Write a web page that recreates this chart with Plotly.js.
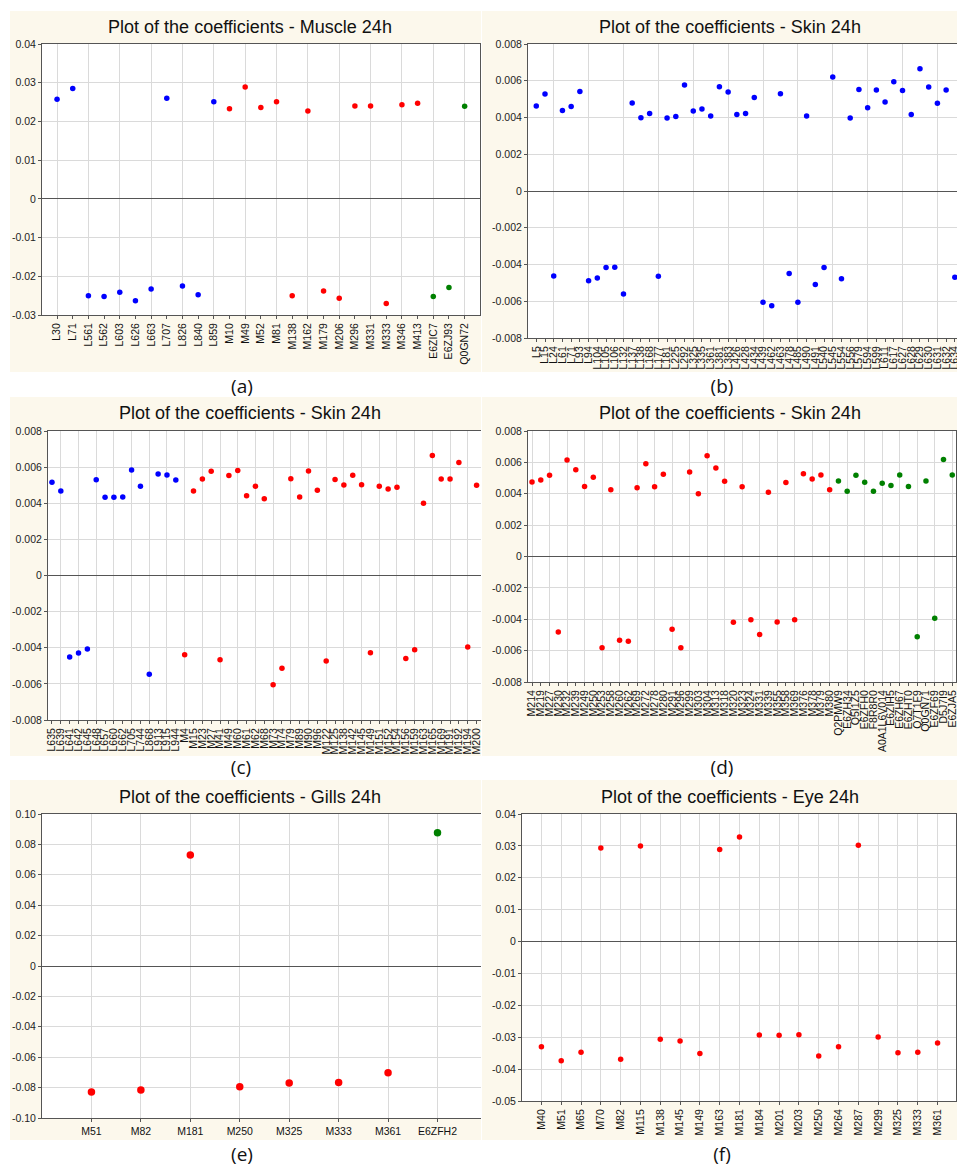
<!DOCTYPE html>
<html><head><meta charset="utf-8">
<script src="https://cdn.plot.ly/plotly-3.0.1.min.js"></script>
<style>
html,body{margin:0;padding:0;background:#fff;width:957px;height:1167px;overflow:hidden;position:relative;}
.panel{position:absolute;}
.lab{position:absolute;font-family:'Open Sans',sans-serif;font-size:19px;color:#111;transform:translate(-50%,-50%);white-space:nowrap;line-height:1;}
</style></head><body>
<div id="pa" class="panel"></div>
<div id="pb" class="panel"></div>
<div id="pc" class="panel"></div>
<div id="pd" class="panel"></div>
<div id="pe" class="panel"></div>
<div id="pf" class="panel"></div>
<div class="lab" style="left:242px;top:386px">(a)</div>
<div class="lab" style="left:722px;top:386px">(b)</div>
<div class="lab" style="left:241px;top:767px">(c)</div>
<div class="lab" style="left:722px;top:767px">(d)</div>
<div class="lab" style="left:242px;top:1154px">(e)</div>
<div class="lab" style="left:722px;top:1154px">(f)</div>
<script>
// ---------- DATA ----------
const aTitle = 'Plot of the coefficients - Muscle 24h';
const aLabels = ['L30','L71','L561','L562','L603','L626','L663','L707','L826','L840','L859','M10','M49','M52','M81','M138','M162','M179','M206','M296','M331','M333','M346','M413','E6ZIC7','E6ZJ93','Q0GN72'];
const aValues = [0.0257,0.0285,-0.0250,-0.0252,-0.0241,-0.0263,-0.0233,0.0260,-0.0225,-0.0248,0.0251,0.0233,0.0289,0.0236,0.0251,-0.0250,0.0227,-0.0238,-0.0257,0.0240,0.0240,-0.0270,0.0243,0.0247,-0.0252,-0.0229,0.0239];

const bTitle = 'Plot of the coefficients - Skin 24h';
const bLabels = ['L5','L15','L24','L61','L71','L93','L94','L104','L105','L106','L132','L137','L138','L168','L177','L181','L225','L292','L325','L335','L361','L381','L383','L426','L428','L434','L439','L462','L463','L478','L485','L490','L491','L540','L545','L554','L556','L579','L594','L599','L611','L617','L627','L628','L629','L630','L631','L632','L634'];
const bValues = [0.00462,0.00528,-0.00462,0.00438,0.00460,0.00542,-0.00489,-0.00473,-0.00417,-0.00415,-0.00560,0.00479,0.00399,0.00422,-0.00464,0.00397,0.00406,0.00577,0.00435,0.00446,0.00408,0.00567,0.00539,0.00417,0.00422,0.00509,-0.00605,-0.00625,0.00529,-0.00449,-0.00605,0.00408,-0.00509,-0.00417,0.00620,-0.00477,0.00397,0.00553,0.00453,0.00549,0.00484,0.00595,0.00547,0.00417,0.00665,0.00566,0.00477,0.00549,-0.00469];

const cTitle = 'Plot of the coefficients - Skin 24h';
const cLabels = ['L635','L639','L641','L642','L645','L648','L657','L660','L662','L705','L744','L868','L913','L915','L944','M4','M15','M23','M27','M41','M49','M60','M61','M62','M68','M73','M74','M79','M89','M90','M96','M122','M125','M138','M142','M145','M149','M151','M152','M154','M156','M159','M163','M165','M169','M191','M192','M194','M200'];
const cValues = [0.00516,0.00468,-0.00451,-0.00429,-0.00407,0.00530,0.00433,0.00433,0.00435,0.00584,0.00494,-0.00547,0.00562,0.00556,0.00529,-0.00439,0.00468,0.00534,0.00577,-0.00466,0.00553,0.00582,0.00442,0.00494,0.00425,-0.00605,-0.00514,0.00536,0.00435,0.00579,0.00472,-0.00474,0.00532,0.00501,0.00555,0.00503,-0.00427,0.00494,0.00479,0.00488,-0.00459,-0.00411,0.00400,0.00665,0.00534,0.00534,0.00625,-0.00396,0.00499];

const dTitle = 'Plot of the coefficients - Skin 24h';
const dLabels = ['M214','M219','M227','M230','M232','M239','M249','M250','M253','M258','M260','M262','M269','M272','M278','M280','M291','M296','M299','M303','M304','M313','M318','M320','M323','M324','M331','M339','M355','M358','M369','M376','M378','M379','M380','Q2PMW9','E6ZH34','Q5I1Z5','E6ZFH0','F8R8R0','A0A1L6V014','E6ZIH5','E6ZH67','E6ZHT0','Q7T1F9','Q0GN71','E6ZF69','D5J7I9','E6ZJA5'];
const dValues = [0.00475,0.00488,0.00518,-0.00481,0.00615,0.00553,0.00447,0.00505,-0.00581,0.00426,-0.00534,-0.00541,0.00439,0.00592,0.00445,0.00524,-0.00464,-0.00581,0.00539,0.00400,0.00643,0.00564,0.00479,-0.00419,0.00445,-0.00403,-0.00498,0.00409,-0.00417,0.00471,-0.00403,0.00528,0.00494,0.00520,0.00426,0.00481,0.00416,0.00518,0.00473,0.00416,0.00467,0.00452,0.00520,0.00447,-0.00511,0.00481,-0.00394,0.00619,0.00520];

const eTitle = 'Plot of the coefficients - Gills 24h';
const eLabels = ['M51','M82','M181','M250','M325','M333','M361','E6ZFH2'];
const eValues = [-0.0829,-0.0816,0.0731,-0.0794,-0.0770,-0.0766,-0.0702,0.0877];

const fTitle = 'Plot of the coefficients - Eye 24h';
const fLabels = ['M40','M51','M65','M70','M82','M115','M138','M145','M149','M163','M181','M184','M201','M203','M250','M264','M287','M299','M325','M333','M361'];
const fValues = [-0.0330,-0.0374,-0.0347,0.0293,-0.0369,0.0300,-0.0306,-0.0312,-0.0351,0.0289,0.0328,-0.0293,-0.0294,-0.0292,-0.0359,-0.0330,0.0302,-0.0299,-0.0349,-0.0347,-0.0318];

// ---------- STYLE ----------
const FONT = '"Liberation Sans", Arial, sans-serif';
const CREAM = '#fcf8ec';
const GRID = '#dadada';
const AX = '#555555';
const GROUP_COLORS = {L:'#0000ff', M:'#ff0000', other:'#008000'};
function groupColor(lbl){
  const c = lbl.charAt(0);
  if (c === 'L') return GROUP_COLORS.L;
  if (c === 'M') return GROUP_COLORS.M;
  return GROUP_COLORS.other;
}

function drawPanel(id, cfg){
  const el = document.getElementById(id);
  const [bx,by,bw,bh] = cfg.box;
  const [px0,py0,px1,py1] = cfg.plot;
  el.style.left = bx+'px'; el.style.top = by+'px';
  el.style.width = bw+'px'; el.style.height = bh+'px';
  const margin = {l:px0-bx, t:py0-by, r:bx+bw-px1, b:by+bh-py1, pad:0};
  const idx = cfg.labels.map((_,i)=>i);
  const yt = [];
  for (let k=0;;k++){
    const v = Math.round((cfg.yMin + k*cfg.yStep)*1e6)/1e6;
    if (v > cfg.yMax + 1e-9) break;
    yt.push(v);
  }
  const ytext = yt.map(v => v === 0 ? '0' : v.toFixed(cfg.yDec));
  const trace = {
    type:'scatter', mode:'markers', x:idx, y:cfg.values, xaxis:'x', yaxis:'y',
    marker:{color:cfg.labels.map(groupColor), size:cfg.msize, line:{width:0}},
    hoverinfo:'skip', cliponaxis:false
  };
  const layout = {
    width:bw, height:bh, margin:margin, paper_bgcolor:CREAM, plot_bgcolor:'#ffffff', showlegend:false,
    title:{text:cfg.title, x:(cfg.titleX-bx)/bw, xref:'container', xanchor:'center',
           y:1-(cfg.titleY-by)/bh, yref:'container', yanchor:'middle',
           font:{family:FONT, size:18, color:'#111'}},
    xaxis:{range:cfg.xRange, tickmode:'array', tickvals:idx, ticktext:cfg.labels, tickangle:cfg.tickAngle,
           ticks:'outside', ticklen:3, tickcolor:AX, showgrid:false, zeroline:false,
           showline:true, linecolor:AX, linewidth:1, mirror:true, automargin:false,
           ticklabeloverflow:'allow',
           tickfont:{family:FONT, size:10.5, color:'#111'}},
    xaxis2:{overlaying:'x', anchor:'y', side:'top', range:cfg.xRange, tickmode:'linear', tick0:cfg.grid0, dtick:cfg.gridStep,
           showgrid:true, gridcolor:GRID, gridwidth:1, showticklabels:false, ticks:'',
           showline:false, zeroline:false, automargin:false},
    yaxis:{range:[cfg.yMin,cfg.yMax], tickmode:'array', tickvals:yt, ticktext:ytext,
           ticks:'outside', ticklen:3, tickcolor:AX, showgrid:true, gridcolor:GRID, gridwidth:1,
           zeroline:true, zerolinecolor:'#555555', zerolinewidth:1,
           showline:true, linecolor:AX, linewidth:1, mirror:'ticks', automargin:false,
           ticklabeloverflow:'allow',
           tickfont:{family:FONT, size:10.5, color:'#222'}}
  };
  const gridTrace = {type:'scatter', mode:'markers', x:[cfg.xRange[0]], y:[0], xaxis:'x2', yaxis:'y',
                     marker:{opacity:0, size:1}, hoverinfo:'skip', showlegend:false};
  Plotly.newPlot(el, [gridTrace, trace], layout, {staticPlot:true, displayModeBar:false});
}

drawPanel('pa', {title:aTitle, labels:aLabels, values:aValues, box:[10,11,471,361], plot:[42,44,480,315],
  xRange:[-0.96,26.98], grid0:0, gridStep:2, yMin:-0.03, yMax:0.04, yStep:0.01, yDec:2, tickAngle:-90, msize:5.5, titleX:250, titleY:27});
drawPanel('pb', {title:bTitle, labels:bLabels, values:bValues, box:[482,11,483,361], plot:[528,44,964,338],
  xRange:[-0.95,49.05], grid0:2, gridStep:4, yMin:-0.008, yMax:0.008, yStep:0.002, yDec:3, tickAngle:-90, msize:5.5, titleX:730, titleY:27});
drawPanel('pc', {title:cTitle, labels:cLabels, values:cValues, box:[10,397,471,359], plot:[48,431,481,720],
  xRange:[-0.45,48.5], grid0:1, gridStep:2, yMin:-0.008, yMax:0.008, yStep:0.002, yDec:3, tickAngle:-90, msize:5.5, titleX:250, titleY:413});
drawPanel('pd', {title:dTitle, labels:dLabels, values:dValues, box:[482,397,475,359], plot:[528,431,956,682],
  xRange:[-0.46,48.43], grid0:0, gridStep:2, yMin:-0.008, yMax:0.008, yStep:0.002, yDec:3, tickAngle:-90, msize:5.5, titleX:730, titleY:413});
drawPanel('pe', {title:eTitle, labels:eLabels, values:eValues, box:[10,780,471,360], plot:[42,814,481,1118],
  xRange:[-1,7.88], grid0:0, gridStep:1, yMin:-0.10, yMax:0.10, yStep:0.02, yDec:2, tickAngle:0, msize:7.5, titleX:250, titleY:797});
drawPanel('pf', {title:fTitle, labels:fLabels, values:fValues, box:[482,780,475,360], plot:[522,814,956,1101],
  xRange:[-0.98,20.93], grid0:0, gridStep:1, yMin:-0.05, yMax:0.04, yStep:0.01, yDec:2, tickAngle:-90, msize:5.5, titleX:730, titleY:797});
</script>
</body></html>
